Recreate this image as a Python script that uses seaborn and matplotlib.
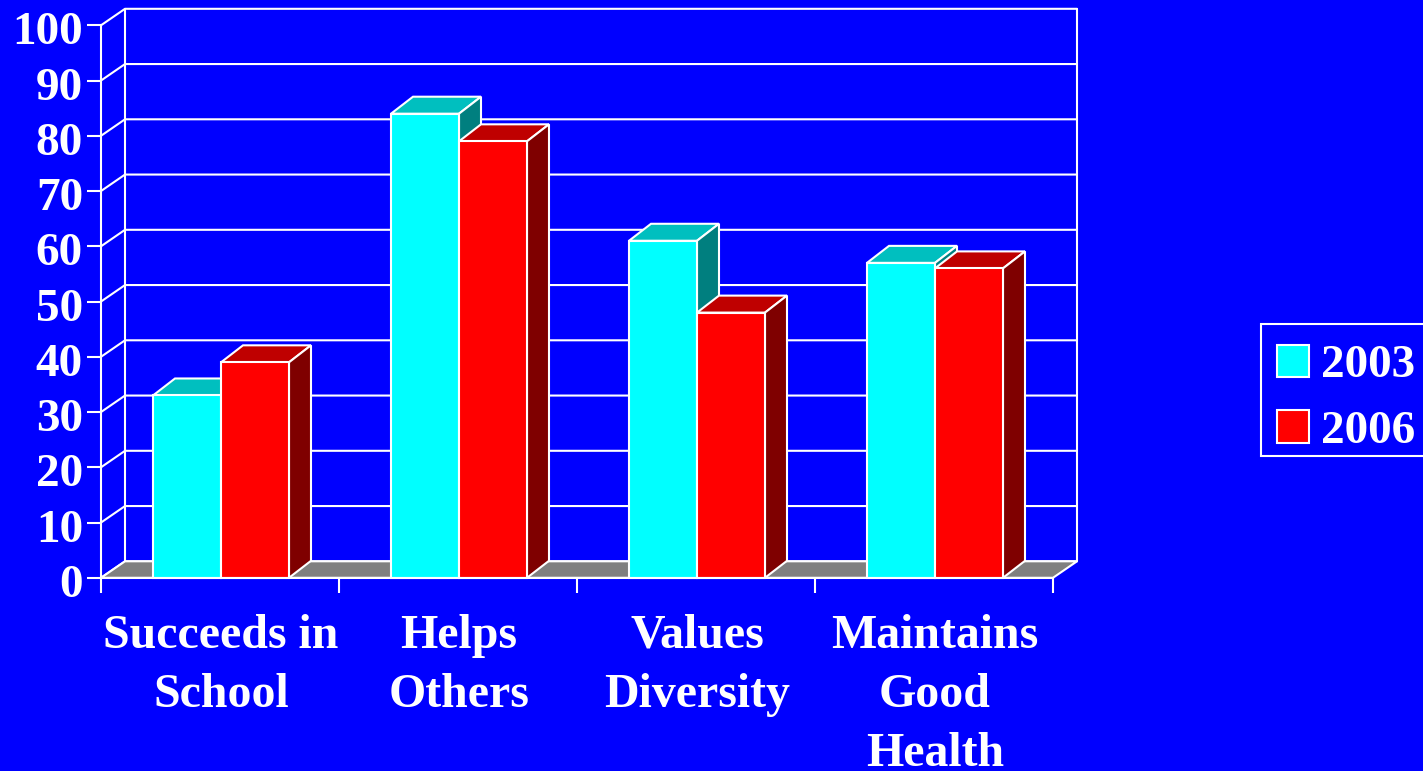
import numpy as np
import pandas as pd
import matplotlib
matplotlib.use('Agg')
import matplotlib.pyplot as plt
from matplotlib.patches import Polygon, Rectangle
from matplotlib.transforms import ScaledTranslation
import seaborn as sns

categories = ['Succeeds in\nSchool', 'Helps\nOthers', 'Values\nDiversity', 'Maintains\nGood\nHealth']
years = ['2003', '2006']
values_2003 = [33, 84, 61, 57]
values_2006 = [39, 79, 48, 56]
y_ticks = [0, 10, 20, 30, 40, 50, 60, 70, 80, 90, 100]

BLUE = '#0000ff'
W, H = 1423, 771
LW = 1.5

df = pd.DataFrame({
    'category': categories * 2,
    'year': [years[0]] * 4 + [years[1]] * 4,
    'value': values_2003 + values_2006,
})

sns.set_theme(style='white')
plt.rcParams['font.family'] = ['Liberation Serif', 'DejaVu Serif']
plt.rcParams['font.weight'] = 'bold'

fig = plt.figure(figsize=(W / 100, H / 100), dpi=100, facecolor=BLUE)
ax = fig.add_axes([101 / W, 1 - 577.8 / H, 952 / W, 552.5 / H])
ax.set_facecolor('none')

sns.barplot(data=df, x='category', y='value', hue='year', hue_order=years,
            palette=['#00ffff', '#ff0000'], width=0.5714, gap=0, saturation=1,
            edgecolor='white', linewidth=LW, legend=False, ax=ax, zorder=5)
ax.set_xlim(-0.5, 3.5)
ax.set_ylim(0, 100)

# depth of the fake 3d box, in data units
dx = 24 / 238
dy = 16.5 / 5.525
bar_dx = 22 / 238
bar_dy = 17 / 5.525

# bars first, before any polygons land in ax.patches
bars = [p for p in ax.patches if isinstance(p, Rectangle) and p.get_height() > 0]

# back wall and gridlines
for t in y_ticks:
    ax.plot([-0.5, -0.5 + dx, 3.5 + dx], [t, t + dy, t + dy], color='white', lw=LW,
            clip_on=False, zorder=1)
ax.plot([-0.5 + dx] * 2, [dy, 100 + dy], color='white', lw=LW, clip_on=False, zorder=1)
ax.plot([3.5 + dx] * 2, [dy, 100 + dy], color='white', lw=LW, clip_on=False, zorder=1)

# grey floor
ax.add_patch(Polygon([(-0.5, 0), (-0.5 + dx, dy), (3.5 + dx, dy), (3.5, 0)], closed=True,
                     facecolor='#808080', edgecolor='white', lw=LW, clip_on=False, zorder=2))

# top and side faces for each bar, 2003 behind 2006
top_colors = {'2003': '#00bfbf', '2006': '#bf0000'}
side_colors = {'2003': '#007f7f', '2006': '#7f0000'}
for i, bar in enumerate(bars):
    year = years[i // 4]
    z = 4 if year == '2003' else 4.5
    bar.set_x(bar.get_x() + 1 / 238)
    x0, x1, h = bar.get_x(), bar.get_x() + bar.get_width(), bar.get_height()
    ax.add_patch(Polygon([(x0, h), (x0 + bar_dx, h + bar_dy), (x1 + bar_dx, h + bar_dy), (x1, h)],
                         closed=True, facecolor=top_colors[year], edgecolor='white', lw=LW,
                         clip_on=False, zorder=z))
    ax.add_patch(Polygon([(x1, 0), (x1 + bar_dx, bar_dy), (x1 + bar_dx, h + bar_dy), (x1, h)],
                         closed=True, facecolor=side_colors[year], edgecolor='white', lw=LW,
                         clip_on=False, zorder=z))
    bar.set_zorder(z + 0.2)
    bar.set_clip_on(False)

# axes lines and ticks
for s in ['top', 'right']:
    ax.spines[s].set_visible(False)
for s in ['left', 'bottom']:
    ax.spines[s].set_color('white')
    ax.spines[s].set_linewidth(LW)
    ax.spines[s].set_zorder(6)

ax.set_yticks(y_ticks)
ax.set_yticklabels([str(t) for t in y_ticks], fontsize=34, color='white', fontweight='bold')
ax.set_xticks(np.arange(-0.5, 4, 1), minor=True)
ax.set_xticks(range(4))
ax.set_xticklabels(categories, fontsize=34.5, color='white', fontweight='bold',
                   linespacing=1.44, va='top')
ax.tick_params(axis='x', which='major', length=0, pad=26)
ax.tick_params(axis='x', which='minor', length=11, width=LW, color='white', bottom=True)
ax.tick_params(axis='y', length=10, width=LW, color='white', pad=3, left=True)
ax.set_xlabel('')
ax.set_ylabel('')

# tick labels sit a little lower / righter in the original
for lab in ax.get_yticklabels():
    lab.set_transform(lab.get_transform() + ScaledTranslation(0, -3 / 100, fig.dpi_scale_trans))
for lab in ax.get_xticklabels():
    lab.set_transform(lab.get_transform() + ScaledTranslation(1 / 100, 0, fig.dpi_scale_trans))

# legend, frame drawn apart since its padding differs top/bottom vs the sides
fig.add_artist(Rectangle((1260.5 / W, 1 - 455.5 / H), 175 / W, 131.5 / H, transform=fig.transFigure,
                         facecolor=BLUE, edgecolor='white', lw=LW))
handles = [Rectangle((0, 0), 1, 1, facecolor=c, edgecolor='white', lw=LW)
           for c in ['#00ffff', '#ff0000']]
leg = fig.legend(handles, years, loc='upper left', bbox_to_anchor=(1260.5 / W, 1 - 328 / H),
                 frameon=False, fontsize=34, labelcolor='white', handlelength=0.68,
                 handleheight=0.68, handletextpad=0.26, labelspacing=0.49, borderpad=0.35,
                 borderaxespad=0)

fig.savefig('out.png', dpi=100, facecolor=BLUE)
